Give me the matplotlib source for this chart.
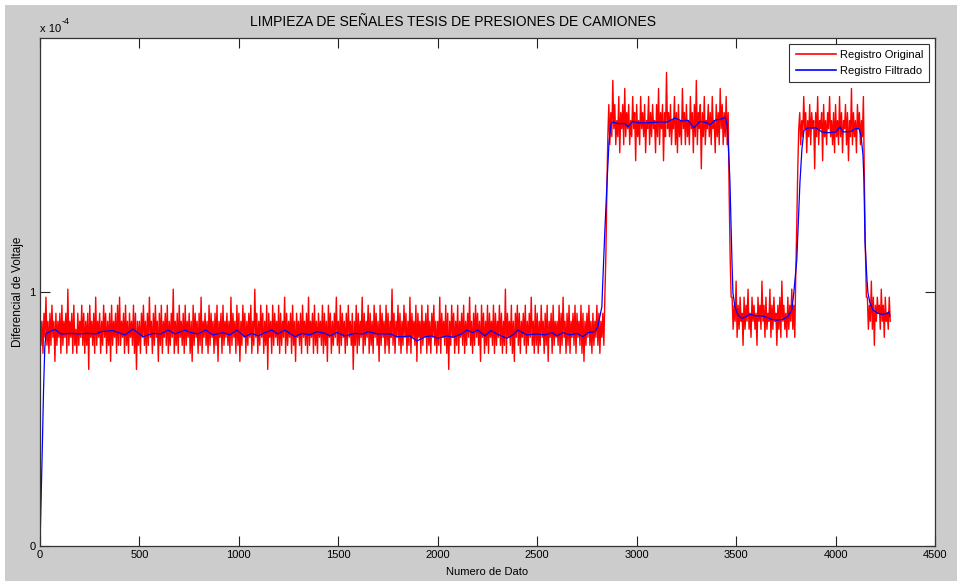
import numpy as np
import matplotlib.pyplot as plt
from matplotlib.patches import Rectangle

plt.rcParams['font.family'] = ['Liberation Sans', 'DejaVu Sans']

# raw ADC codes of the original record, one every 5 samples
q = 0.0316e-4   # volts per code
step = 5
seg1 = [30, 25, 28, 24, 29, 26, 31, 25, 28, 24, 29, 25, 30, 26, 28, 23, 29, 25, 28, 26,
        29, 24, 30, 25, 28, 26, 29, 24, 32, 25, 28, 26, 29, 24, 30, 25, 27, 24, 29, 25,
        28, 26, 30, 25, 29, 24, 28, 25, 29, 22, 30, 26, 28, 25, 29, 24, 31, 25, 28, 26,
        29, 24, 28, 25, 30, 26, 29, 24, 28, 25, 29, 23, 30, 25, 28, 26, 29, 24, 30, 25,
        31, 25, 28, 26, 29, 24, 30, 25, 28, 24, 29, 26, 28, 25, 30, 24, 29, 22, 28, 25,
        28, 24, 29, 26, 30, 25, 28, 24, 29, 25, 31, 26, 28, 24, 29, 25, 30, 26, 28, 23,
        29, 25, 30, 24, 28, 26, 29, 25, 30, 24, 28, 25, 29, 26, 32, 24, 28, 25, 29, 24,
        30, 26, 28, 25, 29, 24, 30, 25, 28, 26, 29, 24, 28, 23, 30, 25, 29, 26, 28, 24,
        29, 25, 31, 24, 28, 26, 29, 25, 28, 24, 30, 25, 29, 26, 28, 24, 29, 25, 30, 23,
        28, 26, 29, 24, 30, 25, 28, 26, 29, 25, 28, 24, 31, 25, 29, 26, 28, 24, 30, 25,
        29, 23, 28, 25, 30, 26, 29, 24, 28, 25, 29, 26, 30, 24, 28, 25, 32, 26, 29, 24,
        28, 25, 30, 26, 29, 24, 28, 25, 30, 22, 29, 26, 28, 24, 30, 25, 29, 26, 28, 25,
        30, 24, 29, 25, 28, 26, 31, 24, 29, 25, 28, 26, 29, 24, 30, 25, 28, 23, 29, 26,
        28, 25, 29, 24, 30, 26, 28, 25, 29, 24, 31, 25, 28, 26, 29, 24, 30, 25, 28, 24,
        29, 26, 28, 25, 30, 24, 29, 25, 28, 23, 30, 26, 29, 24, 28, 25, 29, 26, 31, 25,
        28, 24, 30, 25, 29, 26, 28, 24, 29, 25, 30, 26, 28, 25, 29, 22, 28, 25, 30, 24,
        29, 25, 28, 26, 31, 24, 29, 25, 28, 26, 30, 24, 29, 25, 28, 24, 30, 26, 29, 25,
        28, 23, 30, 25, 29, 26, 28, 24, 30, 25, 29, 24, 28, 26, 32, 25, 29, 24, 28, 26,
        30, 25, 29, 24, 28, 25, 30, 26, 29, 24, 28, 25, 31, 24, 29, 26, 28, 25, 30, 23,
        29, 26, 28, 24, 30, 25, 28, 26, 29, 24, 30, 25, 28, 24, 29, 26, 30, 25, 28, 24,
        28, 25, 31, 24, 29, 26, 28, 25, 30, 24, 29, 22, 28, 25, 30, 26, 29, 24, 28, 25,
        30, 24, 28, 26, 29, 25, 30, 24, 28, 25, 29, 26, 31, 25, 28, 24, 29, 25, 30, 26,
        29, 25, 28, 23, 30, 26, 29, 24, 28, 25, 30, 24, 29, 26, 28, 25, 30, 24, 29, 25,
        28, 26, 30, 25, 29, 24, 28, 25, 32, 24, 29, 26, 28, 25, 30, 24, 28, 23, 29, 26,
        30, 25, 29, 24, 28, 26, 29, 25, 30, 24, 28, 25, 29, 26, 31, 25, 28, 24, 30, 25,
        29, 24, 28, 25, 30, 26, 28, 24, 29, 25, 30, 23, 28, 26, 29, 24, 30, 25, 28, 26,
        28, 25, 30, 24, 29, 25, 31, 26, 28, 24, 29, 25, 30, 24, 28, 26, 29, 25, 30, 24,
        29, 26, 28, 25, 30, 24, 29, 23, 28, 25, 29, 26, 30, 25, 28, 24, 29, 25, 28, 26,
        30, 25, 29, 24, 28, 26, 29, 25]
rise1 = [31, 36, 44, 51]
seg2 = [55, 50, 54, 51, 58, 52, 55, 50, 53, 51, 56, 49, 54, 52, 55, 50, 57, 51, 54, 52,
        55, 50, 53, 51, 56, 52, 54, 48, 55, 51, 53, 50, 56, 52, 54, 51, 55, 49, 53, 52,
        56, 50, 54, 51, 55, 52, 53, 49, 55, 51, 57, 50, 54, 52, 55, 48, 54, 51, 59, 52,
        54, 51, 55, 50, 53, 52, 56, 50, 54, 49, 55, 51, 53, 50, 57, 52, 54, 50, 55, 51,
        53, 50, 56, 52, 54, 49, 55, 51, 58, 50, 54, 52, 55, 47, 54, 51, 56, 50, 53, 52,
        55, 51, 54, 50, 56, 52, 53, 49, 55, 51, 54, 50, 57, 52, 55, 50, 54, 51, 56, 50,
        54]
fall1 = [44, 36, 31]
seg3 = [31, 27, 30, 28, 33, 26, 30, 27, 31, 28, 29, 25, 31, 27, 30, 28, 32, 27, 29, 26,
        31, 28, 30, 27, 29, 25, 31, 28, 30, 27, 33, 28, 30, 26, 31, 27, 29, 28, 32, 26,
        30, 27, 31, 28, 29, 25, 30, 27, 31, 26, 33, 28, 30, 27, 29, 26, 31, 27, 30, 28,
        32, 27, 30, 26]
rise2 = [34, 40, 47, 52]
seg4 = [54, 50, 53, 51, 56, 52, 54, 49, 53, 51, 55, 50, 54, 52, 53, 47, 54, 51, 56, 50,
        53, 52, 54, 48, 55, 51, 53, 50, 54, 52, 56, 51, 53, 50, 54, 49, 55, 51, 53, 50,
        56, 51, 54, 49, 53, 52, 55, 50, 54, 48, 53, 51, 57, 50, 54, 51, 53, 49, 55, 52,
        54, 50, 53, 51, 56]
fall2 = [45, 37, 31]
seg5 = [31, 27, 30, 28, 33, 27, 31, 25, 30, 28, 31, 29, 30, 27, 32, 28, 30, 26, 31, 28,
        29, 27, 31, 28]

# filtered record (x1e-4)
filt_x = [0, 3, 6, 12, 18, 24, 30, 75, 105, 156, 191, 241, 282, 307, 367, 427,
          468, 518, 568, 608, 644, 679, 729, 759, 794, 834, 869, 920, 955, 990,
          1030, 1065, 1098, 1121, 1166, 1196, 1231, 1282, 1317, 1357, 1392, 1433,
          1458, 1493, 1533, 1584, 1624, 1649, 1694, 1725, 1760, 1795, 1825, 1860,
          1895, 1936, 1970, 2000, 2045, 2076, 2121, 2146, 2176, 2201, 2237, 2267,
          2297, 2347, 2378, 2403, 2448, 2498, 2539, 2574, 2599, 2629, 2665, 2700,
          2730, 2755, 2790, 2805, 2825, 2830, 2840, 2851, 2861, 2871, 2881, 2906,
          2941, 2956, 2981, 3006, 3042, 3077, 3107, 3152, 3193, 3228, 3258, 3288,
          3318, 3354, 3369, 3394, 3434, 3444, 3454, 3459, 3464, 3469, 3479, 3484,
          3494, 3509, 3529, 3549, 3570, 3600, 3630, 3655, 3680, 3705, 3735, 3760,
          3780, 3790, 3805, 3821, 3831, 3841, 3861, 3902, 3932, 3962, 4002, 4022,
          4037, 4077, 4098, 4118, 4128, 4138, 4143, 4148, 4158, 4163, 4173, 4188,
          4213, 4238, 4258, 4268, 4273]
filt_y = [0.0, 0.10, 0.19, 0.40, 0.62, 0.78, 0.837, 0.853, 0.835, 0.837, 0.835, 0.837, 0.835, 0.844, 0.848, 0.831,
          0.854, 0.824, 0.837, 0.835, 0.850, 0.835, 0.850, 0.840, 0.835, 0.850, 0.831, 0.840, 0.831, 0.850,
          0.824, 0.837, 0.827, 0.837, 0.850, 0.835, 0.850, 0.824, 0.837, 0.831, 0.844, 0.837,
          0.827, 0.841, 0.827, 0.837, 0.835, 0.844, 0.835, 0.835, 0.835, 0.824, 0.824, 0.827,
          0.807, 0.824, 0.827, 0.818, 0.827, 0.822, 0.835, 0.850, 0.840, 0.850, 0.827, 0.848,
          0.835, 0.818, 0.831, 0.850, 0.831, 0.835, 0.831, 0.840, 0.827, 0.840, 0.831, 0.837,
          0.824, 0.840, 0.844, 0.864, 0.942, 1.047, 1.24, 1.433, 1.591, 1.663, 1.669, 1.663,
          1.663, 1.650, 1.672, 1.666, 1.666, 1.667, 1.669, 1.669, 1.685, 1.673, 1.676, 1.646,
          1.672, 1.666, 1.658, 1.676, 1.683, 1.689, 1.663, 1.604, 1.525, 1.433, 1.126, 0.996,
          0.942, 0.909, 0.896, 0.903, 0.912, 0.906, 0.906, 0.900, 0.892, 0.889, 0.892, 0.903,
          0.929, 0.996, 1.126, 1.433, 1.564, 1.636, 1.646, 1.646, 1.630, 1.627, 1.630, 1.650,
          1.630, 1.632, 1.643, 1.643, 1.617, 1.538, 1.433, 1.20, 1.047, 0.996, 0.957, 0.929,
          0.916, 0.912, 0.916, 0.922, 0.906]

codes = np.array(seg1 + rise1 + seg2 + fall1 + seg3 + rise2 + seg4 + fall2 + seg5)
orig_x = np.arange(len(codes)) * step
orig_y = codes * q
fx = np.array(filt_x)
fy = np.array(filt_y) * 1e-4

fig = plt.figure(figsize=(9.57, 5.81), dpi=100, facecolor='white')
fig.patches.append(Rectangle((5 / 957, 0), 1, 1 - 5 / 581, transform=fig.transFigure,
                             facecolor='#cccccc', edgecolor='none', zorder=-10))
ax = fig.add_axes([40 / 957, 35 / 581, 895 / 957, 508 / 581])
ax.plot(orig_x, orig_y, color='red', lw=1.0, label='Registro Original')
ax.plot(fx, fy, color='blue', lw=0.9, label='Registro Filtrado')

ax.set_xlim(0, 4500)
ax.set_ylim(0, 2e-4)
ax.set_xticks(np.arange(0, 4501, 500))
ax.set_yticks([0, 1e-4])
ax.set_yticklabels(['0', '1'])
ax.tick_params(direction='in', length=7, labelsize=8, top=True, right=True, pad=3,
               color='#222222')
for s in ax.spines.values():
    s.set_color('#333333')
    s.set_linewidth(0.9)

ax.set_title('LIMPIEZA DE SEÑALES TESIS DE PRESIONES DE CAMIONES', fontsize=10,
             x=0.4615, pad=9)
ax.set_xlabel('Numero de Dato', fontsize=8, labelpad=5)
ax.set_ylabel('Diferencial de Voltaje', fontsize=8.5, labelpad=4)
fig.text(40 / 957, 1 - 32 / 581, 'x 10', fontsize=8, ha='left', va='baseline')
fig.text(62 / 957, 1 - 24 / 581, '-4', fontsize=6.5, ha='left', va='baseline')

leg = ax.legend(loc='upper right', fontsize=8, handlelength=3.6, fancybox=False,
                framealpha=1, edgecolor='#333333', borderpad=0.55, labelspacing=0.6,
                handletextpad=0.4, borderaxespad=0.5)
leg.get_frame().set_linewidth(0.8)
for h in leg.get_lines():
    h.set_linewidth(1.2)

fig.savefig('out.png', dpi=100)
